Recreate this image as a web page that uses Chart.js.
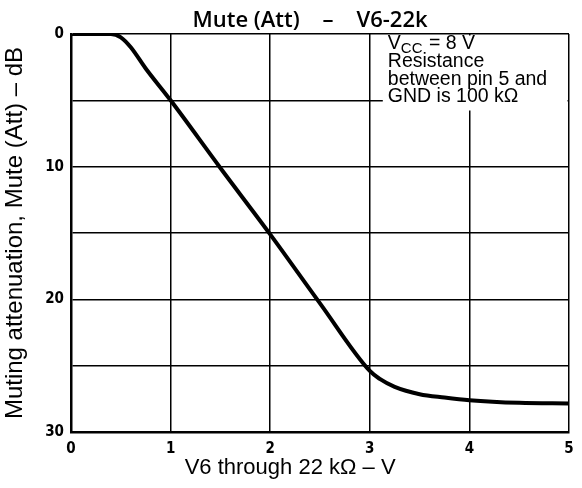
<!DOCTYPE html>
<html>
<head>
<meta charset="utf-8">
<script src="https://cdn.jsdelivr.net/npm/chart.js@4/dist/chart.umd.min.js"></script>
<style>
  body { margin: 0; background: #fff; }
  #wrap { width: 582px; height: 488px; }
</style>
</head>
<body>
<div id="wrap"><canvas id="myChart" width="582" height="488"></canvas></div>
<script>
"use strict"

// V6 through 22 kOhm (V)
const voltage = [0, 0.4, 0.5, 0.6, 0.75, 1, 1.5, 2, 2.5, 3, 3.1, 3.25, 3.5, 3.75, 4, 4.5, 5];
// muting attenuation (dB)
const attenuation = [0, 0, 0.25, 1.0, 2.6, 5, 10.1, 15.1, 20.3, 25.4, 26.0, 26.6, 27.15, 27.4, 27.6, 27.8, 27.85];

const xTicks = [0, 1, 2, 3, 4, 5];
const yTicks = [0, 10, 20, 30];

const chartTitle = "Mute (Att)    –    V6-22k";
const noteLines = ["Resistance", "between pin 5 and", "GND is 100 kΩ"];

const tickFont = { family: "'DejaVu Sans Condensed', 'Liberation Sans Narrow', sans-serif", size: 15, weight: 'bold' };

// title, text box top right, x axis title
const notePlugin = {
  id: 'note',
  beforeDatasetsDraw(chart) {
    const ctx = chart.ctx;
    const area = chart.chartArea;
    const x3 = chart.scales.x.getPixelForValue(3);
    ctx.save();
    ctx.fillStyle = '#fff';
    ctx.fillRect(x3 + 13, area.top + 1.5, area.right - x3 - 14.5, 75);
    ctx.restore();
  },
  afterDraw(chart) {
    const ctx = chart.ctx;
    const area = chart.chartArea;
    const mid = area.left + (area.right - area.left) * 0.48;
    ctx.save();
    ctx.fillStyle = '#000';

    // title
    ctx.font = "600 22px 'Open Sans', sans-serif";
    ctx.textAlign = 'center';
    ctx.textBaseline = 'alphabetic';
    ctx.fillText(chartTitle, mid, area.top - 7);

    // note
    const left = chart.scales.x.getPixelForValue(3) + 18;
    const big = '19.5px "Liberation Sans", Arial, sans-serif';
    ctx.textAlign = 'left';
    ctx.font = big;
    let y = area.top + 15;
    ctx.fillText('V', left, y);
    let w = ctx.measureText('V').width;
    ctx.font = '15px "Liberation Sans", Arial, sans-serif';
    ctx.fillText('CC', left + w, y + 4);
    let w2 = ctx.measureText('CC').width;
    ctx.font = big;
    ctx.fillText(' = 8 V', left + w + w2 + 1, y);
    noteLines.forEach((t, i) => {
      ctx.fillText(t, left, y + 18 + i * 17.5);
    });

    // x title
    ctx.font = '22px "Liberation Sans", Arial, sans-serif';
    ctx.textAlign = 'center';
    ctx.textBaseline = 'middle';
    ctx.fillText('V6 through 22 kΩ – V', area.left + (area.right - area.left) * 0.44, 468);
    ctx.restore();
  }
};

new Chart(document.getElementById('myChart'), {
  type: 'line',
  data: {
    datasets: [{
      data: voltage.map((v, i) => ({ x: v, y: attenuation[i] })),
      borderColor: '#000',
      borderWidth: 4,
      pointRadius: 0,
      fill: false,
      cubicInterpolationMode: 'monotone'
    }]
  },
  options: {
    responsive: false,
    animation: false,
    layout: { padding: { top: 34, right: 13, left: 0, bottom: 0 } },
    plugins: {
      legend: { display: false },
      tooltip: { enabled: false },
      title: { display: false }
    },
    scales: {
      x: {
        type: 'linear',
        min: 0,
        max: 5,
        afterFit: s => { s.height = 56; },
        afterBuildTicks: s => { s.ticks = xTicks.map(v => ({ value: v })); },
        grid: { color: '#000', lineWidth: 1.5, drawTicks: false },
        border: { color: '#000', width: 2.5 },
        ticks: { color: '#000', font: tickFont, padding: 8 }
      },
      y: {
        type: 'linear',
        reverse: true,
        min: 0,
        max: 30,
        afterFit: s => { s.width = 71; },
        ticks: {
          stepSize: 5,
          color: '#000',
          font: tickFont,
          padding: 7,
          callback: v => yTicks.includes(v) ? v : ''
        },
        grid: { color: '#000', lineWidth: 1.5, drawTicks: false },
        border: { color: '#000', width: 2.5 },
        title: {
          display: true,
          text: 'Muting attenuation, Mute (Att) – dB',
          color: '#000',
          font: { family: "'Liberation Sans', Arial, sans-serif", size: 24 },
          padding: { top: 1, bottom: 0 }
        }
      }
    }
  },
  plugins: [notePlugin]
});
</script>
</body>
</html>
